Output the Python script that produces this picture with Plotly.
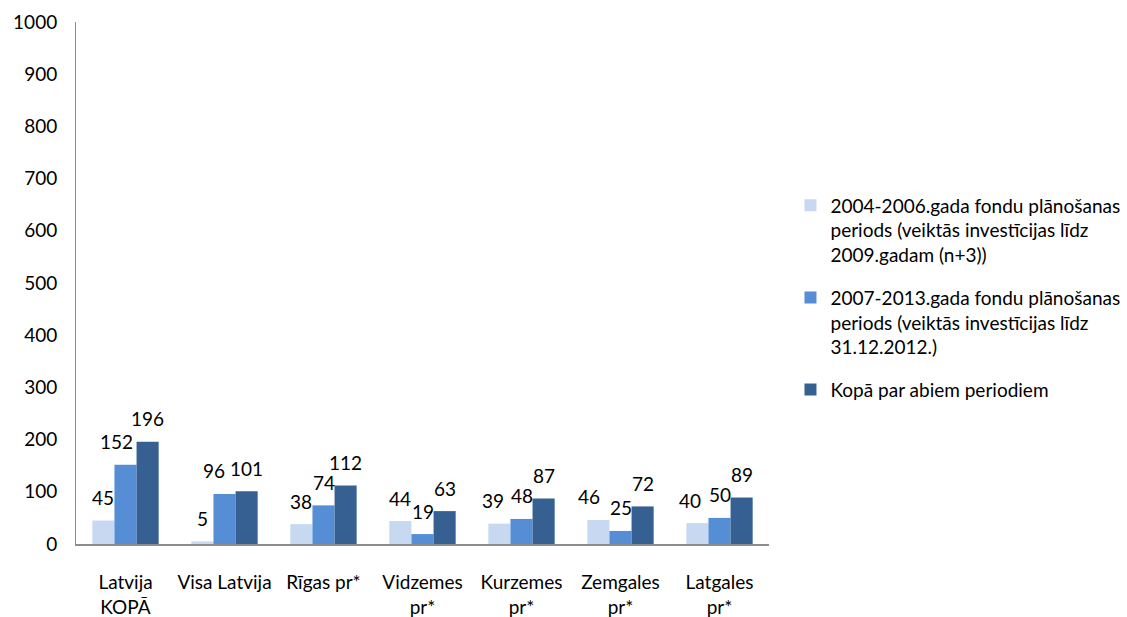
import plotly.graph_objects as go

categories = ["Latvija<br>KOPĀ", "Visa Latvija", "Rīgas pr*", "Vidzemes<br>pr*",
              "Kurzemes<br>pr*", "Zemgales<br>pr*", "Latgales<br>pr*"]
period_2004_2006 = [45, 5, 38, 44, 39, 46, 40]
period_2007_2013 = [152, 96, 74, 19, 48, 25, 50]
total_both = [196, 101, 112, 63, 87, 72, 89]

series_names = [
    "2004-2006.gada fondu plānošanas<br>periods (veiktās investīcijas līdz<br>2009.gadam (n+3))",
    "2007-2013.gada fondu plānošanas<br>periods (veiktās investīcijas līdz<br>31.12.2012.)",
    "Kopā par abiem periodiem",
]
series_colors = ["#C6D9F1", "#558ED5", "#376092"]
series_values = [period_2004_2006, period_2007_2013, total_both]

FONT = "Lato, Calibri, 'Open Sans', sans-serif"
BARGAP = 0.33
N_SERIES = len(series_values)
BAR_W = (1 - BARGAP) / N_SERIES          # bar width in category units
# horizontal nudges (px) for value labels that would otherwise collide
LABEL_NUDGE = {(1, 0): -9, (1, 1): -11, (0, 4): -6, (0, 5): -9, (0, 6): -7}

fig = go.Figure()
for i, (name, color, vals) in enumerate(zip(series_names, series_colors, series_values)):
    fig.add_trace(go.Bar(
        x=categories, y=vals, name=name, legendgroup=f"g{i}",
        marker=dict(color=color, line=dict(width=0)),
        hovertemplate="%{y}<extra></extra>",
    ))
    offset = (i - (N_SERIES - 1) / 2) * BAR_W
    for j, v in enumerate(vals):
        fig.add_annotation(
            x=j + offset, y=v, xref="x", yref="y",
            text=str(v), showarrow=False,
            xanchor="center", yanchor="middle",
            yshift=23, xshift=LABEL_NUDGE.get((i, j), 0),
            font=dict(family=FONT, size=19, color="#000000"),
        )

fig.update_layout(
    width=1127, height=617,
    margin=dict(l=76, r=358, t=22, b=73, autoexpand=False),
    paper_bgcolor="white", plot_bgcolor="white",
    barmode="group", bargap=BARGAP, bargroupgap=0,
    font=dict(family=FONT, size=19, color="#000000"),
    showlegend=True,
    legend=dict(
        x=1.031, y=0.685, xanchor="left", yanchor="top",
        font=dict(family=FONT, size=19, color="#000000"),
        tracegroupgap=15, itemwidth=30, valign="top",
        bgcolor="rgba(0,0,0,0)",
    ),
    xaxis=dict(
        type="category", automargin=False,
        showline=True, linecolor="#8C8C8C", linewidth=2,
        ticks="", showgrid=False, tickfont=dict(size=19),
        ticklabelstandoff=20,
    ),
    yaxis=dict(
        range=[0, 1000], dtick=100, automargin=False,
        showline=True, linecolor="#8C8C8C", linewidth=1,
        ticks="", showgrid=False, zeroline=False, tickfont=dict(size=19),
        ticklabelstandoff=14,
    ),
)

fig.write_html("out.html")
